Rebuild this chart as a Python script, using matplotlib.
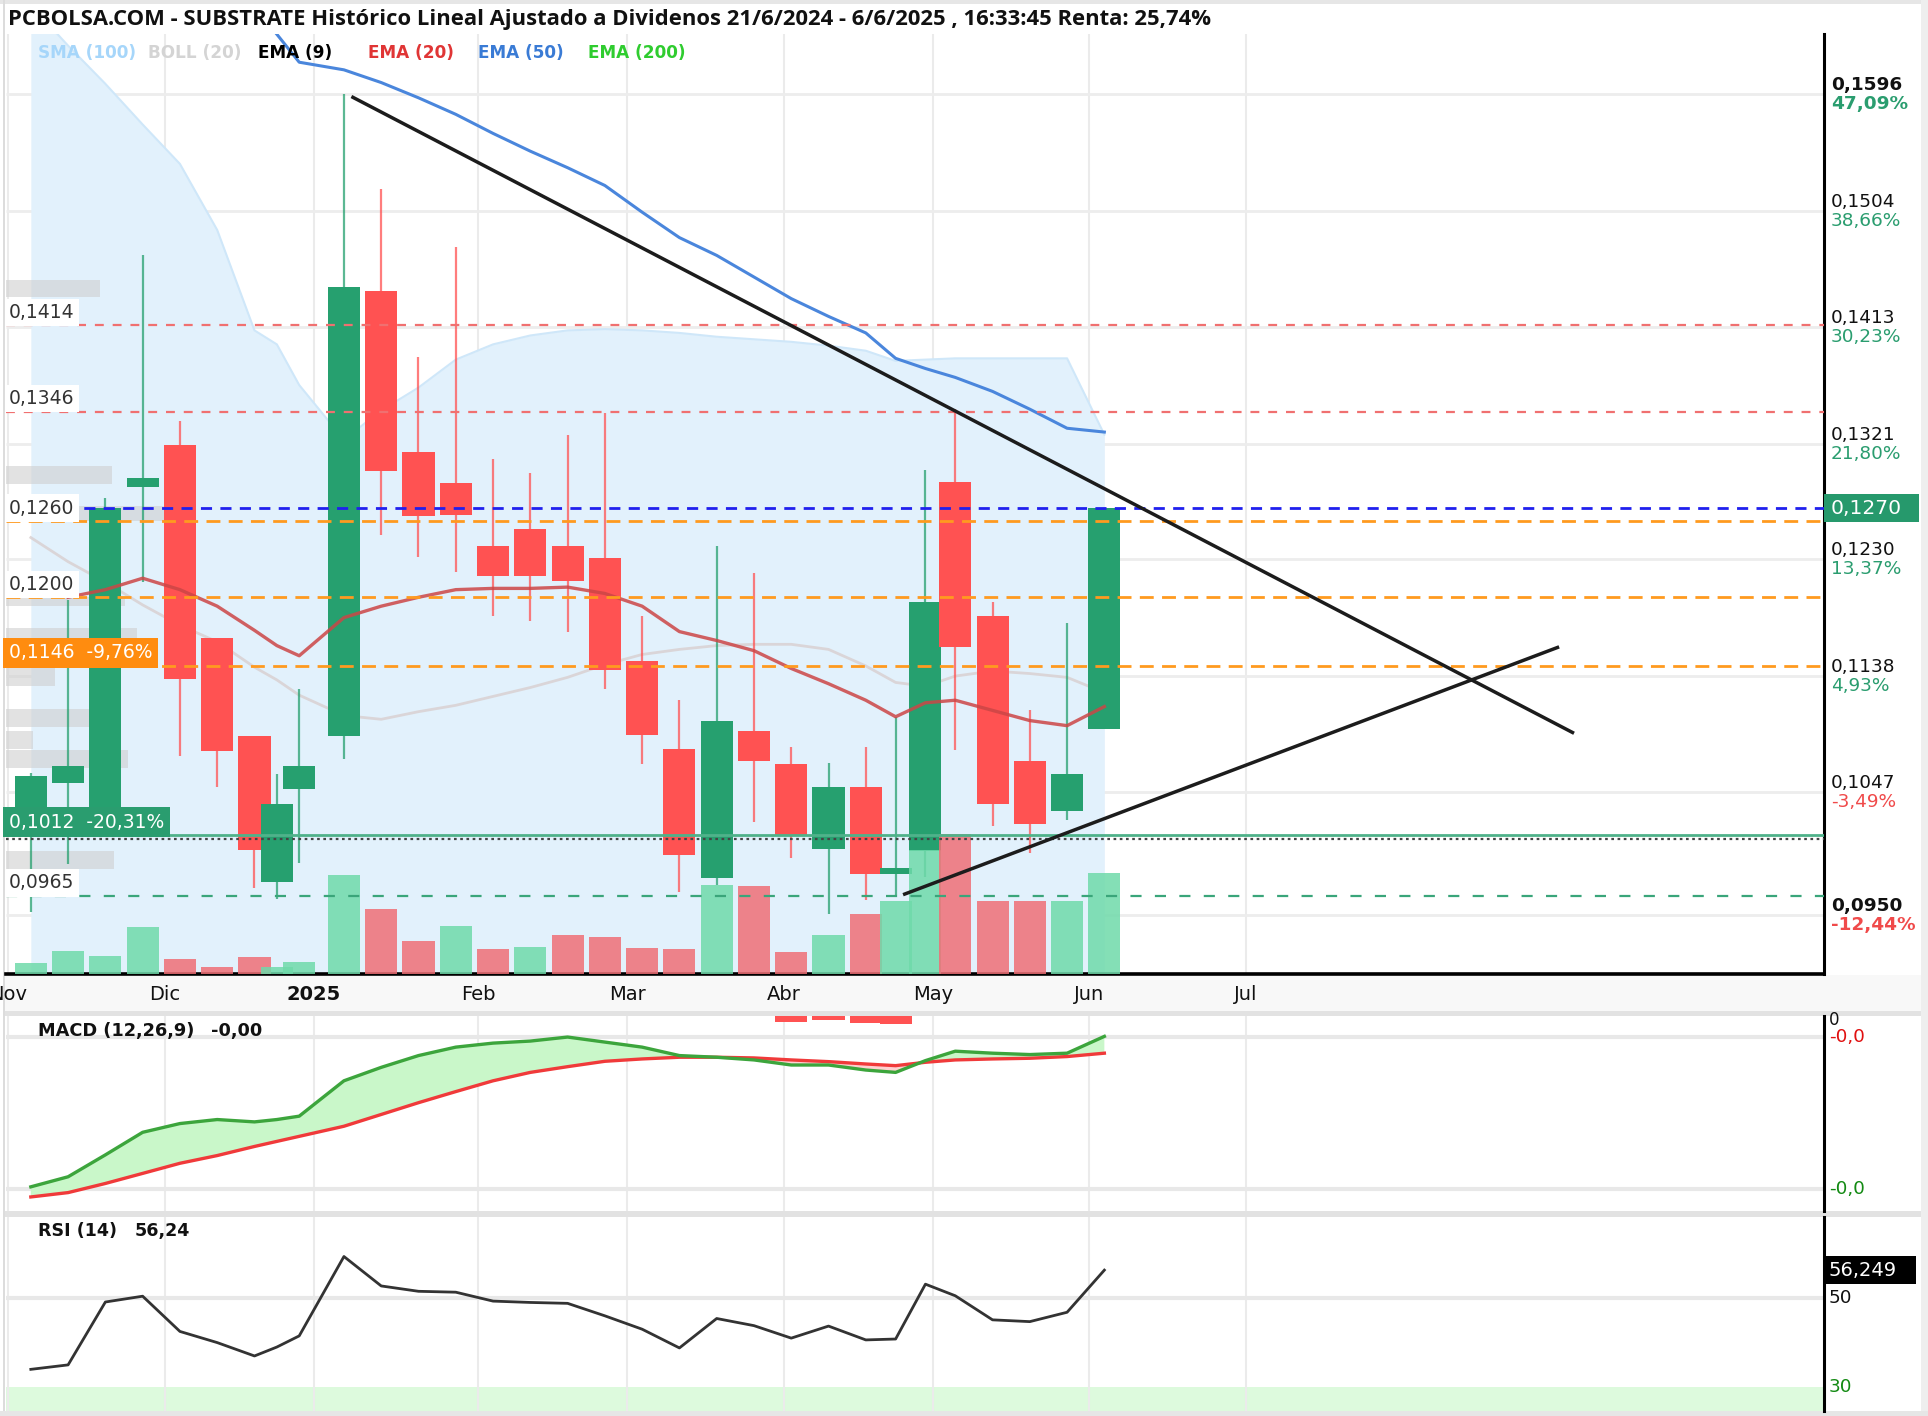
import numpy as np
import matplotlib
matplotlib.use("Agg")
import matplotlib.pyplot as plt
from matplotlib.patches import Rectangle
from matplotlib.transforms import blended_transform_factory as blend

W, H = 1928, 1416

# ---------------- trading calendar (x axis = trading-day index) ----------------
HOLIDAYS = ['2024-12-25', '2024-12-26', '2025-01-01', '2025-04-18', '2025-04-21', '2025-05-01']
ORIGIN = '2024-12-02'


def tday(d):
    d = np.busday_offset(np.datetime64(d, 'D'), 0, roll='forward', holidays=HOLIDAYS)
    return float(np.busday_count(np.datetime64(ORIGIN, 'D'), d, holidays=HOLIDAYS))


# ---------------- data ----------------
title = ("PCBOLSA.COM - SUBSTRATE Histórico Lineal Ajustado a Dividenos "
         "21/6/2024 - 6/6/2025 , 16:33:45 Renta: 25,74%")

dates = ['2024-11-06', '2024-11-13', '2024-11-20', '2024-11-27', '2024-12-04', '2024-12-11',
         '2024-12-18', '2024-12-23', '2024-12-30', '2025-01-08', '2025-01-15', '2025-01-22',
         '2025-01-29', '2025-02-05', '2025-02-12', '2025-02-19', '2025-02-26', '2025-03-05',
         '2025-03-12', '2025-03-19', '2025-03-26', '2025-04-02', '2025-04-09', '2025-04-16',
         '2025-04-24', '2025-04-30', '2025-05-07', '2025-05-14', '2025-05-21', '2025-05-28',
         '2025-06-04']
opens = [0.1025, 0.1054, 0.1020, 0.1287, 0.1320, 0.1168, 0.1091, 0.0976, 0.1049, 0.1091,
         0.1441, 0.1314, 0.1290, 0.1240, 0.1254, 0.1240, 0.1231, 0.1150, 0.1081, 0.0979,
         0.1095, 0.1069, 0.1002, 0.1051, 0.0982, 0.1000, 0.1291, 0.1185, 0.1071, 0.1032,
         0.1096]
highs = [0.1062, 0.1198, 0.1278, 0.1469, 0.1339, 0.1168, 0.1091, 0.1061, 0.1128, 0.1596,
         0.1521, 0.1389, 0.1476, 0.1309, 0.1298, 0.1328, 0.1345, 0.1185, 0.1119, 0.1240,
         0.1219, 0.1082, 0.1070, 0.1082, 0.1106, 0.1300, 0.1348, 0.1196, 0.1111, 0.1180,
         0.1270]
lows = [0.0952, 0.0990, 0.1016, 0.1212, 0.1075, 0.1051, 0.0971, 0.0963, 0.0991, 0.1073,
        0.1249, 0.1232, 0.1220, 0.1185, 0.1181, 0.1173, 0.1128, 0.1069, 0.0968, 0.0974,
        0.1023, 0.0995, 0.0951, 0.0962, 0.0966, 0.0980, 0.1080, 0.1020, 0.0999, 0.1025,
        0.1096]
closes = [0.1059, 0.1067, 0.1270, 0.1294, 0.1136, 0.1079, 0.1001, 0.1037, 0.1067, 0.1444,
          0.1299, 0.1264, 0.1265, 0.1217, 0.1217, 0.1213, 0.1143, 0.1092, 0.0997, 0.1103,
          0.1071, 0.1012, 0.1051, 0.0982, 0.0987, 0.1196, 0.1161, 0.1037, 0.1022, 0.1061,
          0.1270]
volumes = [107, 227, 185, 467, 149, 66, 167, 66, 125, 989, 647, 329, 485, 246, 270, 386,
           370, 263, 252, 895, 879, 225, 386, 600, 734, 1243, 1404, 734, 734, 734, 1013]

sma100 = [0.1666, 0.1634, 0.1604, 0.1572, 0.1541, 0.1489, 0.1410, 0.1399, 0.1367, 0.1324,
          0.1347, 0.1365, 0.1387, 0.1399, 0.1406, 0.1410, 0.1411, 0.1410, 0.1408, 0.1405,
          0.1403, 0.1401, 0.1398, 0.1394, 0.1386, 0.1387, 0.1388, 0.1388, 0.1388, 0.1388,
          0.1328]
boll_mid = [0.1247, 0.1228, 0.1212, 0.1194, 0.1178, 0.1165, 0.1145, 0.1135, 0.1123, 0.1107,
            0.1104, 0.1110, 0.1115, 0.1122, 0.1129, 0.1137, 0.1147, 0.1155, 0.1159, 0.1162,
            0.1163, 0.1163, 0.1159, 0.1146, 0.1133, 0.1130, 0.1138, 0.1142, 0.1140, 0.1137,
            0.1125]
ema20 = [np.nan, 0.1200, 0.1206, 0.1215, 0.1206, 0.1193, 0.1174, 0.1162, 0.1154, 0.1184,
         0.1193, 0.1200, 0.1206, 0.1207, 0.1207, 0.1208, 0.1203, 0.1193, 0.1173, 0.1166,
         0.1158, 0.1144, 0.1132, 0.1119, 0.1106, 0.1117, 0.1119, 0.1111, 0.1103, 0.1099,
         0.1114]
ema50 = [0.1760, 0.1745, 0.1728, 0.1712, 0.1697, 0.1681, 0.1664, 0.1643, 0.1621, 0.1615,
         0.1605, 0.1593, 0.1580, 0.1565, 0.1551, 0.1538, 0.1524, 0.1503, 0.1483, 0.1469,
         0.1452, 0.1435, 0.1421, 0.1408, 0.1388, 0.1380, 0.1373, 0.1362, 0.1348, 0.1333,
         0.1330]

macd_line = [-0.004356, -0.004090, -0.003512, -0.002916, -0.002685, -0.002579, -0.002641,
             -0.002579, -0.002490, -0.001556, -0.001201, -0.000890, -0.000667, -0.000561,
             -0.000507, -0.000401, -0.000534, -0.000667, -0.000890, -0.000934, -0.001005,
             -0.001139, -0.001139, -0.001272, -0.001334, -0.001023, -0.000774, -0.000827,
             -0.000863, -0.000827, -0.000383]
macd_signal = [-0.004623, -0.004508, -0.004267, -0.004001, -0.003734, -0.003530, -0.003290,
               -0.003156, -0.003023, -0.002756, -0.002445, -0.002134, -0.001841, -0.001556,
               -0.001334, -0.001183, -0.001041, -0.000979, -0.000934, -0.000934, -0.000952,
               -0.001005, -0.001050, -0.001112, -0.001156, -0.001067, -0.001005, -0.000979,
               -0.000961, -0.000916, -0.000827]
rsi14 = [34.0, 35.0, 49.1, 50.4, 42.5, 40.0, 37.0, 39.0, 41.5, 59.3, 52.7, 51.5, 51.3, 49.3,
         49.0, 48.8, 46.0, 43.0, 38.8, 45.4, 43.8, 41.0, 43.7, 40.6, 40.8, 53.1, 50.5, 45.1,
         44.7, 46.8, 56.25]

month_starts = ['2024-11-01', '2024-12-01', '2025-01-01', '2025-02-01', '2025-03-01',
                '2025-04-01', '2025-05-01', '2025-06-01', '2025-07-01']
month_labels = ['Nov', 'Dic', '2025', 'Feb', 'Mar', 'Abr', 'May', 'Jun', 'Jul']

price_ticks = [0.1596, 0.1504, 0.1413, 0.1321, 0.1230, 0.1138, 0.1047, 0.0950]
pct_labels = ['47,09%', '38,66%', '30,23%', '21,80%', '13,37%', '4,93%', '-3,49%', '-12,44%']

last_price = 0.1270
red_levels = [0.1414, 0.1346]
orange_levels = [0.1260, 0.1200, 0.1146]
support_level = 0.0965
green_level = 0.1013
dotted_level = 0.1010
white_labels = [(0.1414, '0,1414'), (0.1346, '0,1346'), (0.1260, '0,1260'),
                (0.1200, '0,1200'), (0.0965, '0,0965')]
orange_label = (0.1146, '0,1146  -9,76%')
green_label = (0.1012, '0,1012  -20,31%')

trend_down = [('2025-01-09', 0.1594), ('2025-09-01', 0.1093)]
trend_up = [('2025-04-25', 0.0966), ('2025-08-28', 0.1161)]

vp_price = [0.1443, 0.1296, 0.1266, 0.11965, 0.11715, 0.1137, 0.1105, 0.1088, 0.1073, 0.0993]
vp_height = [0.0014, 0.0014, 0.0012, 0.0007, 0.0009, 0.0014, 0.0014, 0.0014, 0.0014, 0.0014]
vp_volume = [94, 106, 163, 119, 131, 49, 85, 27, 122, 108]

legend_items = [('SMA (100)', '#a6d6fa'), ('BOLL (20)', '#d4d4d4'), ('EMA (9)', '#000000'),
                ('EMA (20)', '#e03535'), ('EMA (50)', '#3a7bd5'), ('EMA (200)', '#2fcc2f')]

# ---------------- style constants ----------------
GREEN = '#26a06f'
RED = '#ff5252'
VGREEN = '#6fdaaa'
VRED = '#ef6f76'
PX_PER_DAY = 7.455
PX_PER_PRICE = 12709.0
XL, XR = -21.33, 222.53
YB, YT = 0.09036, 0.16432
VOL_TOP = 9400.0
FS = 13.3

plt.rcParams['font.family'] = ['DejaVu Sans']

fig = plt.figure(figsize=(W / 100, H / 100), dpi=100)
fig.patch.set_facecolor('white')


def frect(x0, y0, x1, y1):
    return [x0 / W, 1 - y1 / H, (x1 - x0) / W, (y1 - y0) / H]


def band(x0, y0, x1, y1, color, z=-5):
    fig.patches.append(Rectangle((x0 / W, 1 - y1 / H), (x1 - x0) / W, (y1 - y0) / H,
                                 transform=fig.transFigure, fc=color, ec='none', zorder=z))


band(0, 0, W, 4, '#e6e6e6')
band(3, 0, 5, H, '#dcdcdc')
band(1921, 0, W, H, '#eeeeee')
band(5, 975, 1921, 1011, '#f8f8f8')
band(5, 1011, 1921, 1016, '#e2e2e2')
band(5, 1211, 1921, 1217, '#e2e2e2')
band(0, 1411, W, H, '#e6e6e6')

xs = np.array([tday(d) for d in dates])
mx = np.array([tday(d) for d in month_starts])
o = np.array(opens); h = np.array(highs); l = np.array(lows); c = np.array(closes)
up = c >= o
vol = np.array(volumes, dtype=float)
vol_up = np.r_[True, c[1:] >= c[:-1]]
BODY_W = 4.3

# ================= main price panel =================
ax = fig.add_axes(frect(6, 34, 1824, 974))
ax.set_facecolor('white')
for s in ['top', 'left']:
    ax.spines[s].set_visible(False)
ax.spines['right'].set_linewidth(2.2)
ax.spines['bottom'].set_linewidth(2.6)
ax.set_xticks([]); ax.set_yticks([])

ax.vlines(mx, YB, YT, color='#ebebeb', lw=1.5, zorder=0)
ax.hlines(price_ticks, XL, XR, color='#ededed', lw=2, zorder=0)

# SMA(100) area
ax.fill_between(xs, sma100, YB, color='#e2f1fc', lw=0, zorder=1)
ax.plot(xs, sma100, color='#cfe7f9', lw=1.5, zorder=1.1)

# volume profile (left)
ax.barh(vp_price, np.array(vp_volume) / PX_PER_DAY, height=vp_height, left=XL,
        color='#cfcfcf', alpha=0.6, lw=0, zorder=1.5)

# indicator lines
ax.plot(xs, boll_mid, color='#d8cfcf', lw=2, alpha=0.8, zorder=2)
ax.plot(xs, ema50, color='#4a86dc', lw=2.2, zorder=2.2)

# candles
ccol = np.where(up, GREEN, RED)
ax.vlines(xs, l, h, colors=ccol, lw=1.6, alpha=0.75, zorder=3)
body_h = np.maximum(np.abs(c - o), 0.0003)
ax.bar(xs, body_h, bottom=np.minimum(o, c), width=BODY_W, color=ccol, lw=0, zorder=3.1)

ax.plot(xs, ema20, color='#cc4646', lw=2.4, alpha=0.85, zorder=3.3)

# volume bars (height as fraction of panel)
tr = blend(ax.transData, ax.transAxes)
for x, v, u in zip(xs, vol, vol_up):
    ax.add_patch(Rectangle((x - BODY_W / 2, 0), BODY_W, v / VOL_TOP, transform=tr,
                           fc=VGREEN if u else VRED, ec='none', alpha=0.85, zorder=3.5))

# horizontal levels
ax.hlines(red_levels, XL, XR, color='#f07070', lw=1.6, linestyles=(0, (4, 4)), zorder=4)
ax.hlines(orange_levels, XL, XR, color='#ff9a1f', lw=2, linestyles=(0, (5, 3)), zorder=4)
ax.hlines([last_price], XL, XR, color='#2020ee', lw=2, linestyles=(0, (4, 3)), zorder=4)
ax.hlines([support_level], XL, XR, color='#3aa57a', lw=1.6, linestyles=(0, (5, 6)), zorder=4)
ax.hlines([green_level], XL, XR, color='#4fb28a', lw=2, zorder=4)
ax.hlines([dotted_level], XL, XR, color='#444444', lw=1.6, linestyles=(0, (1.2, 1.6)), zorder=4.1)

# trend lines
for seg in (trend_down, trend_up):
    ax.plot([tday(seg[0][0]), tday(seg[1][0])], [seg[0][1], seg[1][1]],
            color='#1c1c1c', lw=2.5, zorder=5, solid_capstyle='butt')

ax.set_xlim(XL, XR)
ax.set_ylim(YB, YT)


def fmt(p):
    return f"{p:.4f}".replace('.', ',')


# right axis labels
for i, (p, pl) in enumerate(zip(price_ticks, pct_labels)):
    bold = 'bold' if i in (0, len(price_ticks) - 1) else 'normal'
    ax.annotate(fmt(p), xy=(1, p), xycoords=('axes fraction', 'data'), xytext=(7, 9),
                textcoords='offset pixels', va='center', ha='left', fontsize=FS,
                fontweight=bold, color='#111111', annotation_clip=False)
    ax.annotate(pl, xy=(1, p), xycoords=('axes fraction', 'data'), xytext=(7, -10),
                textcoords='offset pixels', va='center', ha='left', fontsize=FS,
                fontweight=bold, color='#2a9d6f' if not pl.startswith('-') else '#f04a4a',
                annotation_clip=False)

# current price box
ax.add_patch(Rectangle((1.0, last_price - 14 / PX_PER_PRICE), 95 / 1818, 28 / PX_PER_PRICE,
                       transform=blend(ax.transAxes, ax.transData), fc='#26996c',
                       ec='none', clip_on=False, zorder=6))
ax.annotate(fmt(last_price), xy=(1, last_price), xycoords=('axes fraction', 'data'),
            xytext=(7, 0), textcoords='offset pixels', va='center', ha='left',
            fontsize=14.6, color='white', zorder=7, annotation_clip=False)

# left labels
for p, t in white_labels:
    ax.annotate(t, xy=(0, p), xycoords=('axes fraction', 'data'), xytext=(3, 13),
                textcoords='offset pixels', va='center', ha='left', fontsize=13.5,
                color='#333333', zorder=6,
                bbox=dict(boxstyle='square,pad=0.22', fc='white', ec='none'))
ax.annotate(orange_label[1], xy=(0, orange_label[0]), xycoords=('axes fraction', 'data'),
            xytext=(3, 13), textcoords='offset pixels', va='center', ha='left', fontsize=13.5,
            color='white', zorder=6,
            bbox=dict(boxstyle='square,pad=0.3', fc='#ff8c0f', ec='none'))
ax.annotate(green_label[1], xy=(0, green_label[0]), xycoords=('axes fraction', 'data'),
            xytext=(3, 14), textcoords='offset pixels', va='center', ha='left', fontsize=13.5,
            color='white', zorder=6,
            bbox=dict(boxstyle='square,pad=0.3', fc='#2a9d6f', ec='none'))

# month labels
for x, lab in zip(mx, month_labels):
    ax.annotate(lab, xy=(x, 0), xycoords=('data', 'axes fraction'), xytext=(0, -21),
                textcoords='offset pixels', ha='center', va='center', fontsize=14,
                fontweight='bold' if lab == '2025' else 'normal', color='#111111',
                annotation_clip=False)

# title and legend
fig.text(8 / W, 1 - 19 / H, title, fontsize=15.8, fontweight='bold', va='center', ha='left',
         family=['Open Sans', 'DejaVu Sans'], color='#111111')
leg_x = [38, 148, 258, 368, 478, 588]
for (t, col), lx in zip(legend_items, leg_x):
    fig.text(lx / W, 1 - 53 / H, t, fontsize=12.2, fontweight='bold', color=col,
             va='center', ha='left')

# ================= MACD panel =================
axm = fig.add_axes(frect(6, 1016, 1824, 1211))
for s in ['top', 'left', 'bottom']:
    axm.spines[s].set_visible(False)
axm.spines['right'].set_linewidth(2.2)
axm.set_xticks([]); axm.set_yticks([])
MB, MT = -0.004994, 0.000155
axm.vlines(mx, MB, MT, color='#ebebeb', lw=1.5, zorder=0)
axm.hlines([-0.0004, -0.0044], XL, XR, color='#e8e8e8', lw=3, zorder=0)
mline = np.array(macd_line); msig = np.array(macd_signal)
axm.fill_between(xs, mline, msig, where=mline >= msig, interpolate=True,
                 color='#c9f7c9', lw=0, zorder=1)
axm.fill_between(xs, mline, msig, where=mline < msig, interpolate=True,
                 color='#ffd0d0', lw=0, zorder=1)
axm.plot(xs, msig, color='#f03a3a', lw=2.4, zorder=2)
axm.plot(xs, mline, color='#3ca53c', lw=2.4, zorder=3)
axm.set_xlim(XL, XR); axm.set_ylim(MB, MT)

axh = axm.twinx()
axh.set_axis_off()
hist = mline - msig
neg = hist < -0.00007
axh.bar(xs[neg], hist[neg], width=BODY_W, color='#ff5252', lw=0)
axh.set_xlim(XL, XR); axh.set_ylim(-195 / 45000, 0)

fig.text(38 / W, 1 - 1031 / H, 'MACD (12,26,9)', fontsize=12.8, fontweight='bold',
         va='center', ha='left', color='#111111')
fig.text(211 / W, 1 - 1031 / H, '-0,00', fontsize=12.8, fontweight='bold',
         va='center', ha='left', color='#111111')
fig.text(1829 / W, 1 - 1020 / H, '0', fontsize=12, va='center', ha='left', color='#111111')
axm.annotate('-0,0', xy=(1, -0.0004), xycoords=('axes fraction', 'data'), xytext=(5, 0),
             textcoords='offset pixels', va='center', ha='left', fontsize=FS,
             color='#e01010', annotation_clip=False)
axm.annotate('-0,0', xy=(1, -0.0044), xycoords=('axes fraction', 'data'), xytext=(5, 0),
             textcoords='offset pixels', va='center', ha='left', fontsize=FS,
             color='#138a13', annotation_clip=False)

# ================= RSI panel =================
axr = fig.add_axes(frect(6, 1217, 1824, 1411))
for s in ['top', 'left', 'bottom']:
    axr.spines[s].set_visible(False)
axr.spines['right'].set_linewidth(2.2)
axr.set_xticks([]); axr.set_yticks([])
RB, RT = 24.66, 68.16
axr.axhspan(RB, 30, color='#ddfadd', lw=0, zorder=0)
axr.vlines(mx, RB, RT, color='#ebebeb', lw=1.5, zorder=0.5)
axr.hlines([50], XL, XR, color='#e8e8e8', lw=3, zorder=0.5)
axr.plot(xs, rsi14, color='#333333', lw=2, zorder=2)
axr.set_xlim(XL, XR); axr.set_ylim(RB, RT)

fig.text(38 / W, 1 - 1231 / H, 'RSI (14)', fontsize=12.6, fontweight='bold',
         va='center', ha='left', color='#111111')
fig.text(135 / W, 1 - 1231 / H, '56,24', fontsize=12.6, fontweight='bold',
         va='center', ha='left', color='#111111')
axr.annotate('50', xy=(1, 50), xycoords=('axes fraction', 'data'), xytext=(5, 0),
             textcoords='offset pixels', va='center', ha='left', fontsize=FS,
             color='#111111', annotation_clip=False)
axr.annotate('30', xy=(1, 30), xycoords=('axes fraction', 'data'), xytext=(5, 0),
             textcoords='offset pixels', va='center', ha='left', fontsize=FS,
             color='#138a13', annotation_clip=False)
axr.add_patch(Rectangle((1.0, rsi14[-1] - 14 / 4.46), 92 / 1818, 28 / 4.46,
                        transform=blend(axr.transAxes, axr.transData), fc='black',
                        ec='none', clip_on=False, zorder=6))
axr.annotate('56,249', xy=(1, rsi14[-1]), xycoords=('axes fraction', 'data'), xytext=(4, 0),
             textcoords='offset pixels', va='center', ha='left', fontsize=14,
             color='white', zorder=7, annotation_clip=False)

fig.savefig('out.png', dpi=100, facecolor='white')
